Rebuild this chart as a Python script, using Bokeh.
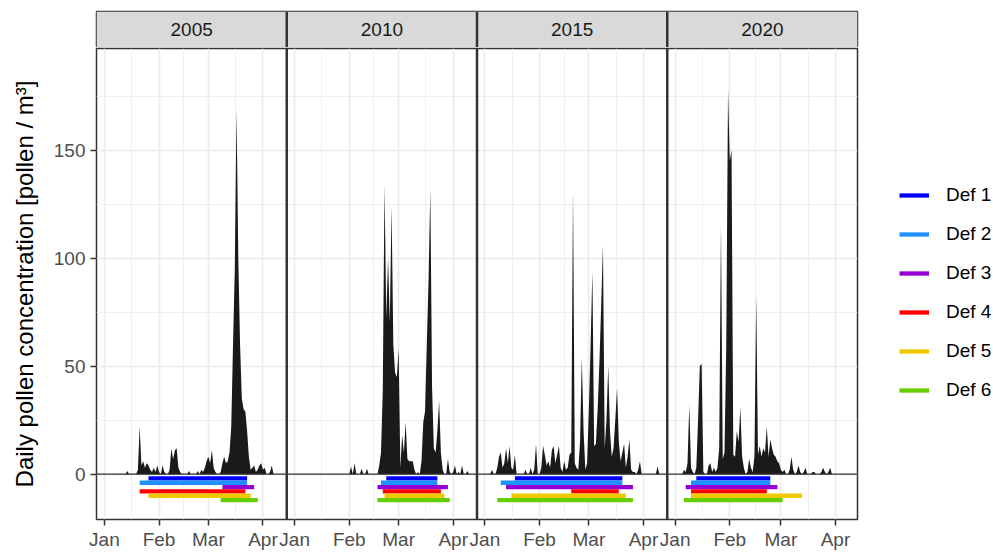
import numpy as np
from bokeh.plotting import figure
from bokeh.models import Range1d, FixedTicker, Span, ColumnDataSource, Legend, LegendItem
from bokeh.layouts import row, column
from bokeh.embed import file_html
from bokeh.resources import INLINE
from bokeh.core.properties import value

# ---------------- data ----------------
years = ["2005", "2010", "2015", "2020"]
month_labels = ["Jan", "Feb", "Mar", "Apr"]
# day index (0 = 1 January) of the first day of Jan..Apr
month_starts = {
    "2005": [0, 31, 59, 90],
    "2010": [0, 31, 59, 90],
    "2015": [0, 31, 59, 90],
    "2020": [0, 31, 60, 91],
}

# daily pollen concentration, day 0 = 1 January
pollen_2005 = [
    0, 0, 0, 0, 0, 0, 0, 0, 0, 0,
    0, 0, 0, 1.5, 0, 0, 0, 0, 0, 2,
    22, 4, 6, 3, 5, 4, 2, 1, 3, 1,
    4, 1, 0, 4, 1, 0, 0, 2, 12, 7,
    11, 12, 3, 1, 0, 0, 0, 0, 1.5, 0,
    0, 0, 0, 1.5, 0, 2, 1, 3, 6, 8,
    5, 11, 3, 1, 0, 0, 1, 5, 8, 5,
    6, 10, 22, 60, 95, 169, 100, 60, 35, 30,
    29, 20, 8, 2, 3, 4, 1, 2, 4, 5,
    2, 3, 0, 0, 1, 4, 0, 0, 0, 0,
]
pollen_2010 = [
    0, 0, 0, 0, 0, 0, 0, 0, 0, 0,
    0, 0, 0, 0, 0, 0, 0, 0, 0, 0,
    0, 0, 0, 0, 0, 0, 0, 0, 0, 0,
    0, 0, 3.5, 0, 5, 0, 0, 0, 2.5, 0,
    0, 2.5, 0, 0, 0, 0, 0, 0, 4, 10,
    38, 134, 72, 100, 70, 124, 60, 47, 45, 58,
    3, 18, 10, 24, 7, 6, 6, 6, 2, 0,
    1, 0, 6, 24, 29, 60, 90, 132, 40, 12,
    10, 20, 34, 10, 2, 0, 0, 7, 1, 0,
    1, 4, 0, 1, 0, 4, 0, 0, 1.5, 0,
]
pollen_2015 = [
    0, 0, 0, 0, 2, 0, 0, 3, 8, 10,
    3, 5, 12, 5, 13, 3, 2, 9, 0, 0,
    0, 0, 0, 2, 0, 0, 3, 0, 2, 14,
    0, 0, 3, 13, 9, 4, 6, 3, 11, 13,
    5, 9, 13, 3, 1, 6, 2, 3, 9, 10,
    132, 5, 3, 2, 15, 54, 20, 2, 5, 30,
    60, 94, 13, 14, 30, 52, 78, 106, 12, 25,
    50, 20, 8, 12, 25, 40, 15, 6, 10, 14,
    3, 8, 16, 2, 1, 1, 0, 2, 6, 0,
    0, 0, 0, 0, 0, 0, 0, 0, 3.5, 0,
]
pollen_2020 = [
    0, 0, 0, 0, 0, 2, 1, 5, 32, 3,
    1, 0, 3, 25, 50, 51, 1, 0, 0, 4,
    5, 1, 3, 1, 3, 12, 116, 7, 10, 60,
    178, 145, 150, 9, 8, 20, 15, 31, 8, 3,
    0, 1, 7, 3, 1, 8, 83, 9, 13, 8,
    12, 10, 22, 8, 16, 12, 9, 8, 6, 5,
    2, 1, 2, 0, 0, 2, 8, 2, 0, 1,
    4, 1, 0, 1, 3, 0, 0, 0, 1, 1,
    0, 0, 0, 1, 3, 1, 0, 1, 3, 0,
    0, 0, 0, 0, 0, 0, 0, 0, 0, 0,
]
pollen = {"2005": pollen_2005, "2010": pollen_2010, "2015": pollen_2015, "2020": pollen_2020}

# season definitions: start / end day index per definition (Def 1..6)
def_names = ["Def 1", "Def 2", "Def 3", "Def 4", "Def 5", "Def 6"]
def_colors = ["#0000FF", "#1E90FF", "#9400D3", "#FF0000", "#EEC900", "#66CD00"]
def_levels = [-2, -4, -6, -8, -10, -12]
def_start_2005 = [25, 20, 67, 20, 25, 66]
def_end_2005 = [81, 81, 85, 80, 83, 87]
def_start_2010 = [52, 49, 47, 50, 51, 47]
def_end_2010 = [81, 81, 87, 83, 85, 88]
def_start_2015 = [17, 9, 12, 49, 15, 7]
def_end_2015 = [78, 78, 84, 76, 80, 84]
def_start_2020 = [12, 9, 6, 9, 9, 5]
def_end_2020 = [54, 54, 58, 52, 72, 61]
def_start = {"2005": def_start_2005, "2010": def_start_2010, "2015": def_start_2015, "2020": def_start_2020}
def_end = {"2005": def_end_2005, "2010": def_end_2010, "2015": def_end_2015, "2020": def_end_2020}

y_ticks = [0, 50, 100, 150]
y_minor = [25, 75, 125, 175]

# ---------------- layout constants ----------------
FONT = "Liberation Sans"
X_PAD = 4.5
SPAN = 108.0
offsets = [k * SPAN for k in range(len(years))]
BORDER = "#333333"
GRID = "#EBEBEB"

xr = Range1d(-X_PAD, len(years) * SPAN - X_PAD)

x_major, x_minor, overrides = [], [], {}
for yr, off in zip(years, offsets):
    ms = month_starts[yr]
    for m, lab in zip(ms, month_labels):
        t = int(m + off)
        x_major.append(t)
        overrides[t] = lab
    for a, b in zip(ms[:-1], ms[1:]):
        x_minor.append((a + b) / 2 + off)

xticker = FixedTicker(ticks=x_major, minor_ticks=x_minor)
yticker = FixedTicker(ticks=y_ticks, minor_ticks=y_minor)

# ---------------- main panel figure ----------------
main = figure(width=859, height=505, x_range=xr, y_range=Range1d(-21, 197),
              output_backend="svg", toolbar_location=None,
              min_border_left=96, min_border_right=2, min_border_top=1, min_border_bottom=30)
main.background_fill_color = "white"
main.border_fill_color = "white"
main.outline_line_color = BORDER
main.outline_line_width = 1.5

main.xaxis.ticker = xticker
main.yaxis.ticker = yticker
main.xgrid.ticker = xticker
main.ygrid.ticker = yticker
for g in (main.xgrid, main.ygrid):
    g.grid_line_color = GRID
    g.grid_line_width = 1.6
    g.minor_grid_line_color = GRID
    g.minor_grid_line_width = 0.8

for ax in (main.xaxis, main.yaxis):
    ax.axis_line_color = None
    ax.major_tick_line_color = BORDER
    ax.major_tick_line_width = 1.5
    ax.major_tick_out = 6
    ax.major_tick_in = 0
    ax.minor_tick_line_color = None
    ax.major_label_text_font = FONT
    ax.major_label_text_font_size = "19px"
    ax.major_label_text_color = "#4D4D4D"
main.xaxis.major_label_overrides = overrides
main.xaxis.major_label_standoff = 3
main.yaxis.major_label_standoff = 5
main.yaxis.axis_label = "Daily pollen concentration [pollen / m³]"
main.yaxis.axis_label_text_font = FONT
main.yaxis.axis_label_text_font_size = "24px"
main.yaxis.axis_label_text_font_style = "normal"
main.yaxis.axis_label_text_color = "black"
main.yaxis.axis_label_standoff = 13

for yr, off in zip(years, offsets):
    vals = np.asarray(pollen[yr], dtype=float)
    xs = np.arange(len(vals)) + off
    main.varea(x=xs, y1=np.zeros_like(vals), y2=vals, fill_color="#1A1A1A")
    src = ColumnDataSource(dict(
        x0=[s + off for s in def_start[yr]],
        x1=[e + off for e in def_end[yr]],
        y=def_levels,
        c=def_colors,
    ))
    main.segment(x0="x0", y0="y", x1="x1", y1="y", line_color="c", line_width=4.3, source=src)

main.add_layout(Span(location=0, dimension="width", line_color=BORDER, line_width=1.3))
for off in offsets[1:]:
    main.add_layout(Span(location=off - X_PAD, dimension="height", line_color=BORDER, line_width=2.5))

# ---------------- strip figure ----------------
strip = figure(width=859, height=47, x_range=xr, y_range=Range1d(0, 1),
               x_axis_location=None, y_axis_location=None,
               output_backend="svg", toolbar_location=None,
               min_border_left=96, min_border_right=2, min_border_top=11, min_border_bottom=0)
strip.border_fill_color = "white"
strip.background_fill_color = "white"
strip.outline_line_color = BORDER
strip.outline_line_width = 1.5
strip.grid.visible = False
strip.quad(left=[o - X_PAD for o in offsets], right=[o + SPAN - X_PAD for o in offsets],
           bottom=0, top=1, fill_color="#D9D9D9", line_color=None)
strip.text(x=[o + SPAN / 2 - X_PAD for o in offsets], y=[0.5] * len(years), text=years,
           text_font=value(FONT), text_font_size="19px", text_color="#1A1A1A",
           text_align="center", text_baseline="middle")
for off in offsets[1:]:
    strip.add_layout(Span(location=off - X_PAD, dimension="height", line_color=BORDER, line_width=2.5))

# ---------------- legend figure ----------------
leg = figure(width=134, height=552, x_range=Range1d(0, 1), y_range=Range1d(0, 1),
             x_axis_location=None, y_axis_location=None,
             output_backend="svg", toolbar_location=None, min_border=0)
leg.outline_line_color = None
leg.grid.visible = False
items = []
for name, col in zip(def_names, def_colors):
    # key-only renderers: their points lie outside the visible range
    r = leg.line(x=[2, 3], y=[2, 2], line_color=col, line_width=4.3)
    items.append(LegendItem(label=name, renderers=[r]))
legend = Legend(items=items, location=(40, 151), glyph_width=30, glyph_height=22,
                label_height=22, label_standoff=17, spacing=17, padding=0, margin=0,
                border_line_color=None, background_fill_alpha=0,
                label_text_font=FONT, label_text_font_size="19px", label_text_color="black")
leg.add_layout(legend)

layout = row(column(strip, main), leg)
open("out.html", "w").write(file_html(layout, INLINE))
